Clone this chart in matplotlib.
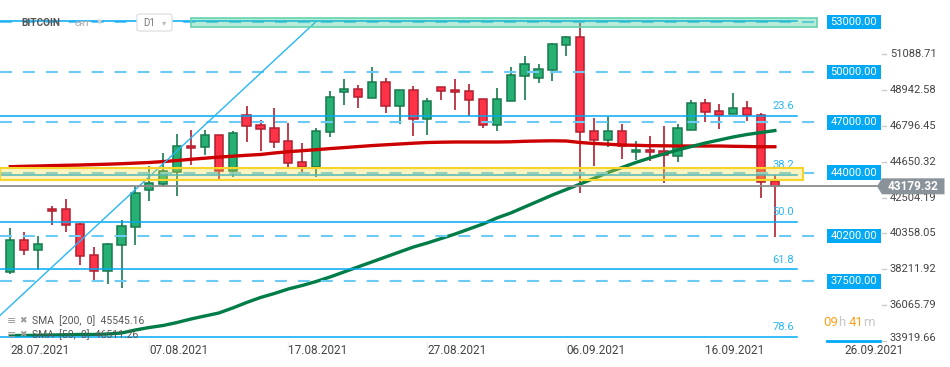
import matplotlib
matplotlib.use('Agg')
import matplotlib.pyplot as plt
import numpy as np
from datetime import date
from matplotlib.patches import Rectangle, Polygon, FancyBboxPatch
from matplotlib.transforms import ScaledTranslation
from matplotlib.colors import to_rgba

plt.rcParams['font.family'] = ['Roboto', 'DejaVu Sans']
plt.rcParams['lines.scale_dashes'] = False

# daily candles, 28.07.2021 -> 21.09.2021
start_day = date(2021, 7, 28)
opens = [38075, 39952, 39354, 41805, 41805, 40908, 39055, 38099, 39653, 40729,
         42941, 43300, 44017, 45571, 45511, 46229, 44095, 47424, 46826, 46647,
         45870, 44615, 44316, 46408, 48799, 48978, 48441, 49397, 47962, 48919,
         47185, 49098, 48919, 48859, 48381, 46826, 48261, 49756, 49636, 50114,
         51609, 52087, 46468, 45930, 46468, 45212, 45332, 45272, 44973, 46528,
         48142, 47663, 47484, 47843, 47424, 43479]
highs = [40687, 40448, 40209, 42002, 42421, 40986, 39551, 39772, 41147, 43180,
         44375, 45171, 46306, 46528, 46545, 46247, 46486, 47980, 47143, 47861,
         46964, 45768, 46647, 48877, 49594, 49218, 50312, 49636, 48919, 49158,
         48441, 49098, 49576, 49277, 48381, 49038, 50294, 50951, 50473, 51728,
         52147, 52942, 47245, 47305, 46886, 45870, 46169, 46767, 46886, 48321,
         48381, 48082, 48739, 48261, 47544, 43837]
lows = [37955, 39091, 38158, 40884, 40430, 38493, 37459, 37357, 37118, 39689,
        42319, 43180, 42618, 44471, 45069, 43598, 43718, 45846, 45308, 45487,
        44352, 43993, 43754, 46145, 48058, 47878, 48441, 47580, 46922, 46205,
        46264, 48321, 47723, 47400, 46647, 46468, 48261, 48321, 49337, 49457,
        50951, 42761, 44364, 45511, 44794, 44734, 44674, 43359, 44615, 46528,
        47006, 46587, 47484, 47065, 42463, 40131]
closes = [39952, 39354, 39713, 41685, 40848, 38995, 38099, 39713, 40789, 42761,
          43359, 44095, 45571, 45451, 46229, 44095, 46348, 46767, 46587, 45810,
          44555, 44316, 46486, 48500, 48978, 48500, 49397, 47962, 48919, 47185,
          48261, 48859, 48799, 48321, 46826, 48381, 49815, 50473, 50174, 51669,
          52087, 46408, 45930, 46468, 45571, 45332, 45260, 45033, 46647, 48142,
          47604, 47424, 47843, 47424, 43419, 43179.32]

sma200 = [44352, 44375, 44393, 44417, 44435, 44453, 44477, 44501, 44531, 44567,
          44603, 44657, 44722, 44794, 44860, 44926, 44979, 45033, 45081, 45171,
          45248, 45308, 45368, 45434, 45493, 45553, 45613, 45661, 45709, 45756,
          45798, 45816, 45828, 45828, 45828, 45828, 45840, 45870, 45888, 45900,
          45888, 45798, 45739, 45697, 45649, 45631, 45607, 45601, 45589, 45589,
          45589, 45589, 45571, 45559, 45541, 45545]
sma50 = [34261, 34261, 34273, 34291, 34303, 34321, 34321, 34350, 34410, 34590,
         34739, 34859, 35038, 35247, 35427, 35606, 35905, 36234, 36532, 36772,
         37041, 37250, 37489, 37758, 38057, 38356, 38655, 38954, 39252, 39551,
         39790, 40059, 40328, 40627, 40926, 41285, 41584, 41943, 42301, 42660,
         42989, 43317, 43658, 44005, 44304, 44603, 44872, 45111, 45350, 45559,
         45768, 45948, 46127, 46277, 46396, 46511]

level_prices = [53000, 50000, 47000, 44000, 40200, 37500]
fib_high, fib_low = 53040, 29040
fib_ratios = [0.0, 23.6, 38.2, 50.0, 61.8, 78.6]
zone_green = (52690, 53220)
zone_yellow = (43540, 44260)
trend_x = [-0.74, 21.96]
trend_y = [35460, 53000]
last_price = 43179.32
axis_ticks = [33919.66, 36065.79, 38211.92, 40358.05, 42504.19,
              44650.32, 46796.45, 48942.58, 51088.71]
date_labels = [date(2021, 7, 28), date(2021, 8, 7), date(2021, 8, 17), date(2021, 8, 27),
               date(2021, 9, 6), date(2021, 9, 16), date(2021, 9, 26)]

W, H = 950, 367
fig = plt.figure(figsize=(W / 100, H / 100), dpi=100)
ax = fig.add_axes([0, 1 - 339 / H, 800 / W, 339 / H])
ax.set_xlim(-0.741, 56.81)
ax.set_ylim(34051, 54317)
for s in ax.spines.values():
    s.set_visible(False)
ax.set_yticks([])
ax.set_xticks([])
ytr = ax.get_yaxis_transform()
xtr = ax.get_xaxis_transform()

# candles
x = np.arange(len(opens))
o = np.array(opens, float); c = np.array(closes, float)
h = np.array(highs, float); l = np.array(lows, float)
up = c >= o
fill = np.where(up, '#26b073', '#ff3347')
edge = np.where(up, '#177a4d', '#b21f30')
ax.vlines(x, l, h, colors=edge, lw=1.2, zorder=2)
ax.bar(x, np.maximum(np.abs(c - o), 70), bottom=np.minimum(o, c), width=0.6,
       color=fill, edgecolor=edge, linewidth=1.1, zorder=3)

# moving averages
ax.plot(x, sma200, color='#cc0000', lw=2.4, zorder=4)
ax.plot(x, sma50, color='#007d47', lw=2.4, zorder=4)

# horizontal levels (dashed)
for p in level_prices:
    ax.plot([0, 823 / 800], [p, p], transform=ytr, color='#6ccbf5', lw=1.5,
            dashes=(8.6, 7.9), clip_on=False, zorder=5)

# fibonacci levels
for r in fib_ratios:
    p = fib_high - (fib_high - fib_low) * r / 100
    ax.plot([0, 797 / 800], [p, p], transform=ytr, color='#03a9f4', lw=1.1, zorder=5)
    if r > 0:
        ax.annotate(f'{r:.1f}', (794 / 800, p), xycoords=ytr, xytext=(0, 3.5),
                    textcoords='offset points', ha='right', va='bottom',
                    fontsize=8, color='#29b6f6', zorder=6)

# trend line
ax.plot(trend_x, trend_y, color='#29b6f6', lw=1.0, zorder=5)

# zones
ax.axhspan(*zone_green, xmin=191 / 800, xmax=817 / 800,
           facecolor=to_rgba('#3fcf9a', 0.38), edgecolor='#66d3ae', lw=1.2,
           clip_on=False, zorder=6)
ax.axhspan(*zone_yellow, xmin=0, xmax=803 / 800,
           facecolor=to_rgba('#f5dc3c', 0.32), edgecolor='#f8d32a', lw=1.5,
           clip_on=False, zorder=6)

# last price line + tag
ax.plot([0, 877 / 800], [last_price, last_price], transform=ytr, color='#8c8c8c',
        lw=1.3, clip_on=False, zorder=5)


def anchored(xf, price):
    return fig.dpi_scale_trans + ScaledTranslation(xf, price, ytr)


tag = Polygon([(0, 0), (0.05, 0.08), (0.675, 0.08), (0.675, -0.08), (0.05, -0.08)],
              closed=True, fc='#8a9399', ec='none', transform=anchored(877 / 800, last_price),
              clip_on=False, zorder=8)
ax.add_patch(tag)
ax.text(913 / 800, last_price, f'{last_price:.2f}', transform=ytr, ha='center', va='center',
        fontsize=8.5, fontweight='bold', color='white', clip_on=False, zorder=9)

# level boxes
for p in level_prices:
    ax.add_patch(Rectangle((0, -0.072), 0.535, 0.145, fc='#03a9f4', ec='none',
                           transform=anchored(827 / 800, p), clip_on=False, zorder=8))
    ax.text(854 / 800, p, f'{p:.2f}', transform=ytr, ha='center', va='center',
            fontsize=8, color='white', clip_on=False, zorder=9)

# right axis labels
for t in axis_ticks:
    ax.plot([882 / 800, 886 / 800], [t, t], transform=ytr, color='#cccccc', lw=1,
            clip_on=False)
    va = 'center' if t > ax.get_ylim()[0] else 'baseline'
    ax.text(890 / 800, t, f'{t:.2f}', transform=ytr, ha='left', va=va, fontsize=8,
            color='#444444', clip_on=False)

# date labels
for d in date_labels:
    i = (d - start_day).days
    ax.text(i, -0.035, d.strftime('%d.%m.%Y'), transform=xtr, ha='left', va='center',
            fontsize=8.5, color='#444444', clip_on=False)
    if i <= 56:
        ax.plot([i, i], [-0.008, -0.032], transform=xtr, color='#ededed', lw=1,
                clip_on=False)
ax.plot([827 / 800, 880 / 800], [-0.005, -0.005], transform=ax.transAxes,
        color='#03a9f4', lw=2, clip_on=False)

# indicator legend (bottom-left, clipped by the plot area)
for yy, lbl in [(0.053, 'SMA  [200,  0]  45545.16'), (0.012, 'SMA  [50,  0]  46511.26')]:
    ax.text(7 / 800, yy, '≡', transform=ax.transAxes, fontsize=8, color='#9a9a9a',
            va='center', ha='left', zorder=7)
    ax.text(19 / 800, yy, '✖', transform=ax.transAxes, fontsize=6.5, color='#9a9a9a',
            va='center', ha='left', zorder=7)
    ax.text(32 / 800, yy, lbl, transform=ax.transAxes, fontsize=7.5, color='#555555',
            va='center', ha='left', zorder=7)


# header
def fx(px):
    return px / W


def fy(py):
    return 1 - py / H


fig.text(fx(21), fy(23), 'BITCOIN', fontsize=7.3, fontweight='bold', color='#555555',
         va='center', ha='left', zorder=10)
fig.text(fx(75), fy(24), 'CRT', fontsize=6, fontweight='bold', color='#b5b5b5',
         va='center', ha='left', zorder=10)
fig.text(fx(97), fy(23), '▼', fontsize=5, color='#d0d0d0', va='center', ha='left', zorder=10)
fig.add_artist(FancyBboxPatch((fx(137), fy(31)), 35 / W, 17 / H,
                              boxstyle='round,pad=0,rounding_size=0.004',
                              transform=fig.transFigure, fc='white', ec='#e2e2e2',
                              lw=1, zorder=9))
fig.text(fx(143), fy(23), 'D1', fontsize=7, color='#777777', va='center', ha='left', zorder=10)
fig.text(fx(162), fy(23), '▾', fontsize=6, color='#bbbbbb', va='center', ha='left', zorder=10)

# countdown, pieces placed one after another
renderer = fig.canvas.get_renderer()
cur = 823
for s, col, gap in [('09', '#ffa21f', 0), ('h', '#c8c8c8', 3), ('41', '#ffa21f', 0), ('m', '#c8c8c8', 0)]:
    t = fig.text(fx(cur), fy(322), s, fontsize=9.5, color=col, va='center', ha='left')
    cur += t.get_window_extent(renderer).width + gap

fig.savefig('out.png', dpi=100)
